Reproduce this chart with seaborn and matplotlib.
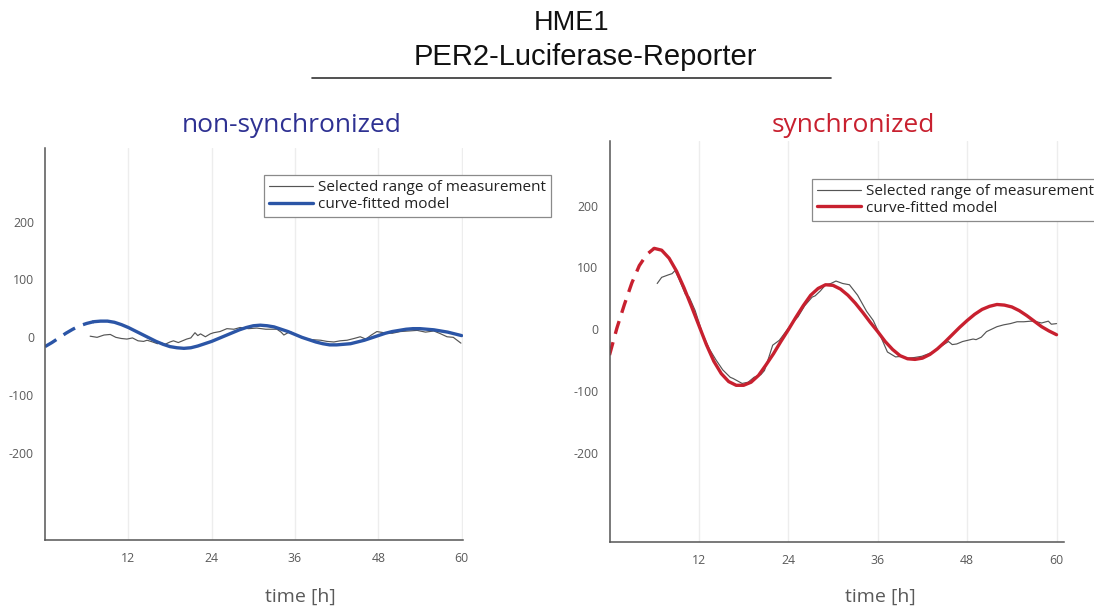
import numpy as np
import matplotlib
matplotlib.use("Agg")
import matplotlib.pyplot as plt
import seaborn as sns

# ---------------- data ----------------
hours_ticks = [12, 24, 36, 48, 60]
y_ticks = [-200, -100, 0, 100, 200]
y_tick_labels = ["-200", "-100", "0", "100", "200"]

model_t = list(range(0, 61))

# non-synchronized
nonsync_meas_t = [6.5, 7.5, 8.5, 9.4, 10.2, 11, 11.8, 12.6, 13.4, 14.2, 14.7, 15.5, 16.2, 16.6, 17.3,
                  18, 18.5, 19.2, 20, 20.4, 21, 21.6, 22, 22.4, 23.1, 23.8, 24.3, 25.2, 26.2, 27.2,
                  28.1, 29.3, 30.5, 31.8, 33.4, 34, 34.4, 35.3, 36.3, 37.3, 38.5, 39.7, 40.6, 41.6,
                  42.5, 43.5, 44.5, 45.4, 46.2, 47, 47.8, 48.8, 50, 51.2, 52.4, 53.6, 54.8, 56, 57,
                  57.9, 58.8, 59.9]
nonsync_meas_y = [2, 0, 4, 5, 0, -2, -3, -1, -6, -7, -5, -8, -11, -9, -12, -8, -6, -9, -5, -3,
                  -1, 8, 3, 6, 1, 6, 8, 10, 15, 14, 17, 15, 16, 14, 14, 9, 4, 10, 3, -2,
                  -4, -5, -7, -8, -6, -5, -2, 1, -3, 4, 10, 8, 7, 10, 11, 12, 9, 11, 6, 1,
                  0, -10]
nonsync_model_y = [-16, -9, -1, 7, 14, 20, 24, 27, 28, 28, 26, 22, 17, 11, 5, -1, -7, -12, -16, -18,
                   -19, -18, -15, -11, -7, -2, 3, 8, 13, 17, 20, 21, 20, 18, 14, 10, 5, 0, -4, -8,
                   -11, -13, -13, -12, -11, -8, -5, -1, 3, 7, 10, 12, 14, 15, 15, 14, 13, 11, 9, 6, 3]
nonsync_fit_start = 7

# synchronized
sync_meas_t = [6.4, 7.0, 7.9, 8.4, 8.8, 9.3, 10.2, 10.7, 11.5, 12.5, 13.4, 14.3, 15.2, 16.2, 16.6,
               17.2, 17.8, 18.6, 19.4, 19.8, 20.3, 20.8, 21.4, 21.9, 22.8, 23.6, 24.4, 25.3, 26.2,
               27.2, 27.6, 28.3, 29.0, 29.7, 30.4, 31.3, 32.2, 33.3, 34.5, 35.4, 36.4, 37.3, 38.4,
               39.2, 40.0, 40.9, 41.9, 42.8, 43.7, 44.6, 45.5, 46.0, 46.6, 47.4, 48.1, 48.8, 49.2,
               49.9, 50.6, 51.3, 52.0, 52.9, 53.8, 54.7, 55.6, 56.6, 57.3, 58.0, 58.9, 59.3, 60.0]
sync_meas_y = [74, 84, 88, 90, 95, 82, 56, 52, 30, -8, -32, -50, -66, -78, -80, -84, -88, -86, -78, -76,
               -74, -67, -45, -26, -18, -5, 8, 20, 38, 52, 54, 62, 72, 74, 78, 74, 72, 55, 29, 14,
               -12, -37, -45, -44, -47, -46, -44, -40, -35, -27, -20, -25, -24, -20, -18, -16, -17, -13, -4, 0,
               4, 7, 9, 12, 12, 13, 12, 10, 13, 8, 9]
sync_model_y = [-42, 2, 40, 75, 103, 121, 131, 128, 115, 94, 67, 37, 6, -25, -52, -72, -85, -91, -91, -86,
                -75, -58, -40, -20, -1, 19, 38, 55, 66, 72, 71, 65, 55, 42, 27, 11, -4, -20, -33, -43,
                -48, -49, -47, -41, -32, -21, -9, 3, 14, 24, 32, 37, 40, 39, 36, 30, 22, 13, 4, -3, -9]
sync_fit_start = 6

labels = ["Selected range of measurement", "curve-fitted model"]

# ---------------- style ----------------
sns.set_theme(style="white")
plt.rcParams['font.family'] = ['Open Sans', 'DejaVu Sans']

W, H = 1094, 607
fig = plt.figure(figsize=(W / 100, H / 100), dpi=100)

BLUE = "#2b55a6"
RED = "#c8202f"
GRAY = "#555555"
TXT = "#5a5a5a"


def px_axes(left, top, right, bottom):
    return fig.add_axes([left / W, 1 - bottom / H, (right - left) / W, (bottom - top) / H])


def panel(ax, meas_t, meas_y, mod_y, fit_start, color, xlim, ylim, anchor):
    mt = np.array(model_t, dtype=float)
    my = np.array(mod_y, dtype=float)
    sns.lineplot(x=meas_t, y=meas_y, ax=ax, color=GRAY, lw=0.85, sort=False,
                 label=labels[0], legend=False)
    solid = mt >= fit_start
    dashed = mt <= fit_start
    sns.lineplot(x=mt[solid], y=my[solid], ax=ax, color=color, lw=2.4, sort=False,
                 label=labels[1], legend=False)
    sns.lineplot(x=mt[dashed], y=my[dashed], ax=ax, color=color, lw=2.4, sort=False,
                 legend=False)
    ax.lines[-1].set_dashes([4, 2.6])
    ax.set_xlim(*xlim)
    ax.set_ylim(*ylim)
    ax.set_xticks(hours_ticks)
    ax.set_xticklabels([str(h) for h in hours_ticks])
    ax.set_yticks(y_ticks)
    ax.set_yticklabels(y_tick_labels)
    ax.tick_params(axis='both', length=0, labelsize=8.8, labelcolor=TXT)
    ax.tick_params(axis='x', pad=9)
    ax.tick_params(axis='y', pad=8)
    ax.grid(axis='x', color='#ededed', lw=1.0)
    ax.grid(axis='y', visible=False)
    sns.despine(ax=ax)
    for s in ['left', 'bottom']:
        ax.spines[s].set_color('#555555')
        ax.spines[s].set_linewidth(1.1)
    ax.set_xlabel("")
    ax.set_ylabel("")
    h, l = ax.get_legend_handles_labels()
    leg = ax.legend(h[:2], l[:2], loc='upper left', bbox_to_anchor=anchor, frameon=True,
                    fancybox=False, edgecolor='#8a8a8a', framealpha=1, fontsize=11,
                    handlelength=2.9, handletextpad=0.3, borderpad=0.32, labelspacing=0.12,
                    borderaxespad=0)
    leg.get_frame().set_linewidth(0.9)
    for t in leg.get_texts():
        t.set_color('#222222')


axL = px_axes(45, 148, 463, 540)
panel(axL, nonsync_meas_t, nonsync_meas_y, nonsync_model_y, nonsync_fit_start, BLUE,
      (0, 60.2), (-350, 327), (0.524, 0.930))

axR = px_axes(609.5, 141, 1064, 542)
panel(axR, sync_meas_t, sync_meas_y, sync_model_y, sync_fit_start, RED,
      (0, 61.0), (-345, 305), (0.4455, 0.905))

# titles
fig.text(572 / W, 1 - 23 / H, "HME1", ha='center', va='center', fontsize=19.5,
         family=['Liberation Sans', 'DejaVu Sans'], color='#111111')
fig.text(585 / W, 1 - 57 / H, "PER2-Luciferase-Reporter", ha='center', va='center', fontsize=21,
         family=['Liberation Sans', 'DejaVu Sans'], color='#111111')
fig.add_artist(plt.Line2D([312 / W, 831 / W], [1 - 78 / H, 1 - 78 / H], color='#333333', lw=1.2))

fig.text(292 / W, 1 - 125 / H, "non-synchronized", ha='center', va='center', fontsize=19,
         color='#2e3192')
fig.text(853 / W, 1 - 125 / H, "synchronized", ha='center', va='center', fontsize=19,
         color='#c8202f')

fig.text(300 / W, 1 - 597 / H, "time [h]", ha='center', va='center', fontsize=14, color=TXT)
fig.text(880 / W, 1 - 597 / H, "time [h]", ha='center', va='center', fontsize=14, color=TXT)

fig.savefig("out.png", dpi=100, facecolor='white')
